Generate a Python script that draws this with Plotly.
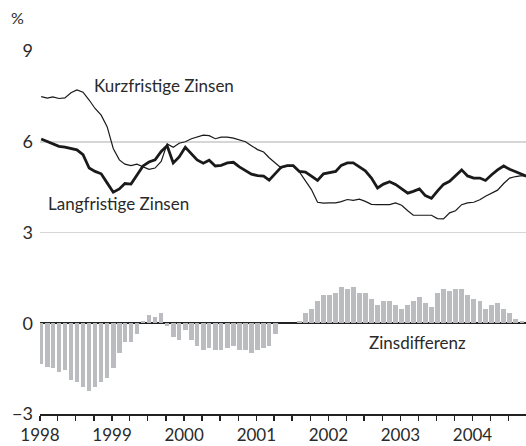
import plotly.graph_objects as go
import pandas as pd

# Monthly data, Jan 1998 - Oct 2004
months = pd.date_range("1998-01-01", periods=82, freq="MS") + pd.Timedelta(days=6)

kurzfristig = [
    7.49, 7.44, 7.48, 7.43, 7.45, 7.62, 7.71, 7.64, 7.38, 7.10, 6.88, 6.50,
    5.78, 5.40, 5.26, 5.21, 5.26, 5.18, 5.09, 5.13, 5.35, 5.93, 5.82, 5.95,
    6.00, 6.10, 6.15, 6.22, 6.20, 6.10, 6.15, 6.15, 6.12, 6.07, 6.00, 5.87,
    5.74, 5.66, 5.47, 5.30, 5.13, 5.22, 5.21, 5.00, 4.70, 4.42, 4.00, 3.97,
    3.98, 3.98, 4.02, 4.09, 4.06, 4.10, 4.03, 3.93, 3.92, 3.92, 3.92, 3.98,
    3.90, 3.72, 3.57, 3.57, 3.57, 3.57, 3.46, 3.45, 3.65, 3.72, 3.92, 3.98,
    4.00, 4.08, 4.20, 4.30, 4.40, 4.62, 4.80, 4.85, 4.88, 4.84,
]

langfristig = [
    6.09, 6.01, 5.95, 5.85, 5.82, 5.77, 5.73, 5.57, 5.13, 5.02, 4.94, 4.64,
    4.33, 4.44, 4.62, 4.60, 4.91, 5.20, 5.33, 5.40, 5.68, 5.87, 5.30, 5.50,
    5.82, 5.60, 5.40, 5.29, 5.39, 5.20, 5.22, 5.30, 5.32, 5.17, 5.04, 4.93,
    4.88, 4.86, 4.73, 4.96, 5.16, 5.21, 5.21, 5.02, 5.00, 4.86, 4.72, 4.94,
    4.97, 5.02, 5.22, 5.30, 5.30, 5.18, 5.04, 4.80, 4.47, 4.60, 4.68, 4.59,
    4.43, 4.30, 4.36, 4.44, 4.22, 4.13, 4.37, 4.59, 4.69, 4.87, 5.07, 4.87,
    4.80, 4.80, 4.72, 4.91, 5.07, 5.20, 5.09, 5.01, 4.93, 4.84,
]

zinsdifferenz = [
    -1.36, -1.43, -1.49, -1.62, -1.56, -1.89, -1.95, -2.12, -2.25, -2.12, -1.95, -1.82,
    -1.49, -0.97, -0.61, -0.61, -0.34, 0.08, 0.27, 0.21, 0.34, -0.08, -0.47, -0.54,
    -0.21, -0.54, -0.74, -0.90, -0.83, -0.90, -0.90, -0.83, -0.74, -0.90, -0.90, -0.97,
    -0.90, -0.83, -0.74, -0.34, 0.0, 0.0, 0.0, 0.08, 0.34, 0.47, 0.73, 0.93,
    0.93, 1.00, 1.19, 1.13, 1.19, 1.00, 1.00, 0.80, 0.60, 0.73, 0.73, 0.60,
    0.47, 0.60, 0.73, 0.86, 0.66, 0.53, 1.00, 1.13, 1.06, 1.13, 1.13, 0.93,
    0.80, 0.73, 0.47, 0.60, 0.66, 0.47, 0.34, 0.14, 0.08, -0.07,
]

y_ticks = [-3, 0, 3, 6, 9]
y_ticktext = ["\u22123", "0", "3", "6", "9"]
year_ticks = [f"{y}-01-01" for y in range(1998, 2005)]
year_labels = [str(y) for y in range(1998, 2005)]

FONT = "Lato"
TXT = "#2a2a2a"

fig = go.Figure()
fig.add_trace(go.Bar(
    x=months, y=zinsdifferenz,
    width=23 * 86400000,
    marker=dict(color="#bbbcbf", line=dict(width=0)),
    showlegend=False, hoverinfo="skip",
))
fig.add_trace(go.Scatter(
    x=months, y=kurzfristig, mode="lines",
    line=dict(color="#1a1a1a", width=1.2),
    showlegend=False, hoverinfo="skip",
))
fig.add_trace(go.Scatter(
    x=months, y=langfristig, mode="lines",
    line=dict(color="#1a1a1a", width=2.8),
    showlegend=False, hoverinfo="skip",
))

fig.update_layout(
    width=526, height=446,
    margin=dict(l=40, r=0, t=51, b=32, autoexpand=False),
    paper_bgcolor="white", plot_bgcolor="white",
    font=dict(family=FONT, size=17, color=TXT),
    bargap=0,
    xaxis=dict(
        type="date",
        range=["1998-01-01", "2004-09-28"],
        tickvals=year_ticks, ticktext=year_labels,
        ticks="outside", ticklen=5, tickwidth=1.3, tickcolor="#222",
        showline=True, linecolor="#222", linewidth=1.5,
        showgrid=False, zeroline=False,
        minor=dict(dtick="M3", tick0="1998-01-01", ticks="outside",
                   ticklen=5, tickwidth=1.3, tickcolor="#222", showgrid=False),
        tickfont=dict(size=17, color=TXT),
        ticklabelstandoff=0,
        fixedrange=True,
    ),
    yaxis=dict(
        range=[-3, 9],
        tickvals=y_ticks, ticktext=y_ticktext,
        showgrid=True, gridcolor="#d6d6d6", gridwidth=1.5,
        zeroline=True, zerolinecolor="#222", zerolinewidth=2,
        showline=False, ticks="", ticklabelstandoff=6,
        tickfont=dict(size=18, color=TXT),
        fixedrange=True,
    ),
    annotations=[
        dict(text="%", xref="paper", yref="paper", x=-0.047, y=1.092,
             xanchor="center", yanchor="middle", showarrow=False,
             font=dict(size=16, color=TXT)),
        dict(text="Kurzfristige Zinsen", xref="x", yref="y",
             x="1999-09-20", y=7.85, xanchor="center", yanchor="middle",
             showarrow=False, font=dict(size=17, color=TXT)),
        dict(text="Langfristige Zinsen", xref="x", yref="y",
             x="1999-02-02", y=3.95, xanchor="center", yanchor="middle",
             showarrow=False, font=dict(size=17, color=TXT)),
        dict(text="Zinsdifferenz", xref="x", yref="y",
             x="2003-03-28", y=-0.65, xanchor="center", yanchor="middle",
             showarrow=False, font=dict(size=17, color=TXT)),
    ],
)

fig.write_html(
    "out.html",
    config={"displayModeBar": False, "staticPlot": True},
    post_script="document.body.style.margin='0';document.body.style.overflow='hidden';",
)
